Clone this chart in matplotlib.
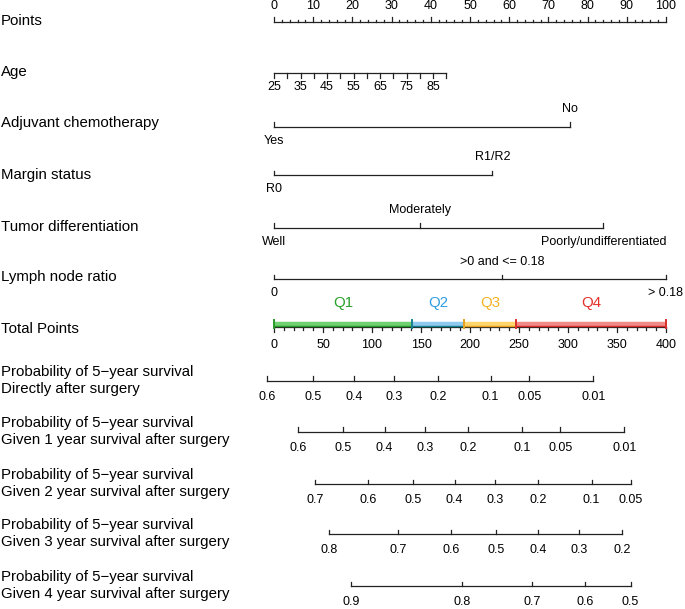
import numpy as np
import matplotlib
matplotlib.use("Agg")
import matplotlib.pyplot as plt

plt.rcParams['font.family'] = ['Liberation Sans', 'DejaVu Sans']

# ---- data (points scale 0-100, total points scale 0-400) ----
points_ticks = np.arange(0, 101, 10)

age_labels = [25, 35, 45, 55, 65, 75, 85]
age_min, age_max = 25, 90
age_max_points = 44.0

chemo_levels = ["Yes", "No"]
chemo_points = [0, 75.5]

margin_levels = ["R0", "R1/R2"]
margin_points = [0, 55.7]

tumor_levels = ["Well", "Moderately", "Poorly/undifferentiated"]
tumor_points = [0, 37.2, 84.0]

lnr_levels = ["0", ">0 and <= 0.18", "> 0.18"]
lnr_points = [0, 58.1, 100]

total_ticks = np.arange(0, 401, 50)
quartile_names = ["Q1", "Q2", "Q3", "Q4"]
quartile_edges = [0, 140.5, 194.2, 246.6, 400]
quartile_text = ["#27a12b", "#2f9ee0", "#f5b324", "#e3312c"]
quartile_band = ["#6fd16f", "#8fc9ef", "#ffd66e", "#f28a88"]
quartile_edge = ["#2a9a2a", "#17808f", "#e8a020", "#d8302a"]

prob_titles = [
    "Probability of 5\u2212year survival\nDirectly after surgery",
    "Probability of 5\u2212year survival\nGiven 1 year survival after surgery",
    "Probability of 5\u2212year survival\nGiven 2 year survival after surgery",
    "Probability of 5\u2212year survival\nGiven 3 year survival after surgery",
    "Probability of 5\u2212year survival\nGiven 4 year survival after surgery",
]
prob_labels = [
    ["0.6", "0.5", "0.4", "0.3", "0.2", "0.1", "0.05", "0.01"],
    ["0.6", "0.5", "0.4", "0.3", "0.2", "0.1", "0.05", "0.01"],
    ["0.7", "0.6", "0.5", "0.4", "0.3", "0.2", "0.1", "0.05"],
    ["0.8", "0.7", "0.6", "0.5", "0.4", "0.3", "0.2"],
    ["0.9", "0.8", "0.7", "0.6", "0.5"],
]
# total points at which each probability falls
prob_total = [
    [-6.8, 39.5, 81.6, 122.8, 167.1, 221.1, 260.5, 325.8],
    [24.8, 70.7, 112.9, 154.1, 198.3, 252.8, 292.2, 357.4],
    [41.8, 96.2, 142.1, 184.3, 225.7, 269.6, 324.1, 363.8],
    [55.8, 126.5, 180.9, 226.8, 269.4, 310.9, 354.8],
    [78.3, 192.2, 263.3, 317.1, 363.8],
]

# ---- layout ----
px0, pxscale = 274, 3.92   # pixel of 0 points, pixels per point
fig = plt.figure(figsize=(6.85, 6.09), dpi=100)
ax = fig.add_axes([0, 0, 1, 1])
ax.set_xlim(-px0 / pxscale, (685 - px0) / pxscale)
ax.set_ylim(609, 0)
ax.axis('off')

LC = "#222222"
LW = 0.9
FS_LAB = 10.8
FS_TICK = 9.0
left_x = -px0 / pxscale + 0.2

row_y = [22, 73, 126.7, 175, 227.7, 279.3, 326.7]
row_names = ["Points", "Age", "Adjuvant chemotherapy", "Margin status",
             "Tumor differentiation", "Lymph node ratio", "Total Points"]
label_y = [21, 72, 123, 174.5, 227, 277, 329]
for name, y in zip(row_names, label_y):
    ax.text(left_x, y, name, fontsize=FS_LAB, va='center', ha='left')

# Points axis (ticks up)
y = row_y[0]
ax.plot([0, 100], [y, y], color=LC, lw=LW)
for v in np.arange(0, 101, 2):
    h = 5 if v % 10 == 0 else 2.5
    ax.plot([v, v], [y, y - h], color=LC, lw=LW)
for v in points_ticks:
    ax.text(v, 6, str(v), fontsize=FS_TICK, ha='center', va='center')

# Age axis (ticks down)
y = row_y[1]
age_to_pts = lambda a: (a - age_min) / (age_max - age_min) * age_max_points
ax.plot([0, age_to_pts(age_max)], [y, y], color=LC, lw=LW)
for a in np.arange(age_min, age_max + 1, 5):
    ax.plot([age_to_pts(a)] * 2, [y, y + 4.5], color=LC, lw=LW)
for a in age_labels:
    ax.text(age_to_pts(a), 87.5, str(a), fontsize=FS_TICK, ha='center', va='center')


def cat_axis(y, levels, pts):
    ax.plot([min(pts), max(pts)], [y, y], color=LC, lw=LW)
    for i, (lv, p) in enumerate(zip(levels, pts)):
        ax.plot([p, p], [y, y - 4.5], color=LC, lw=LW)
        if i % 2 == 0:
            ax.text(p, y + 14, lv, fontsize=FS_TICK, ha='center', va='center')
        else:
            ax.text(p, y - 17.5, lv, fontsize=FS_TICK, ha='center', va='center')


cat_axis(row_y[2], chemo_levels, chemo_points)
cat_axis(row_y[3], margin_levels, margin_points)
cat_axis(row_y[4], tumor_levels, tumor_points)
cat_axis(row_y[5], lnr_levels, lnr_points)

# Total points axis with quartile bands
y = row_y[6]
ax.plot([0, 100], [y, y], color=LC, lw=LW)
for v in np.arange(0, 401, 10):
    h = 5.5 if v % 50 == 0 else 3
    ax.plot([v / 4] * 2, [y, y + h], color=LC, lw=LW)
for v in total_ticks:
    ax.text(v / 4, 344.5, str(v), fontsize=FS_TICK, ha='center', va='center')
for i, q in enumerate(quartile_names):
    a, b = quartile_edges[i] / 4, quartile_edges[i + 1] / 4
    ax.plot([a, b], [y - 2.3, y - 2.3], color=quartile_band[i], lw=3.2,
            solid_capstyle='butt')
    ax.plot([a, b], [y - 0.6, y - 0.6], color=quartile_edge[i], lw=1.0,
            solid_capstyle='butt')
    ax.plot([a, a], [y - 7, y + 1], color=quartile_edge[i], lw=1.4)
    ax.text((a + b) / 2, 303, q, fontsize=FS_LAB, ha='center', va='center',
            color=quartile_text[i])
ax.plot([100, 100], [y - 7, y + 1], color=quartile_edge[3], lw=1.4)

# Probability axes
prob_line_y = [380.7, 431.7, 484, 534.3, 586]
for title, labs, tps, y in zip(prob_titles, prob_labels, prob_total, prob_line_y):
    ax.text(left_x, y - 0.5, title, fontsize=FS_LAB, ha='left', va='center',
            linespacing=1.25)
    xs = [t / 4 for t in tps]
    ax.plot([xs[0], xs[-1]], [y, y], color=LC, lw=LW)
    for x, lab in zip(xs, labs):
        ax.plot([x, x], [y, y - 4.5], color=LC, lw=LW)
        ax.text(x, y + 16, lab, fontsize=FS_TICK, ha='center', va='center')

fig.savefig("out.png", dpi=100)
